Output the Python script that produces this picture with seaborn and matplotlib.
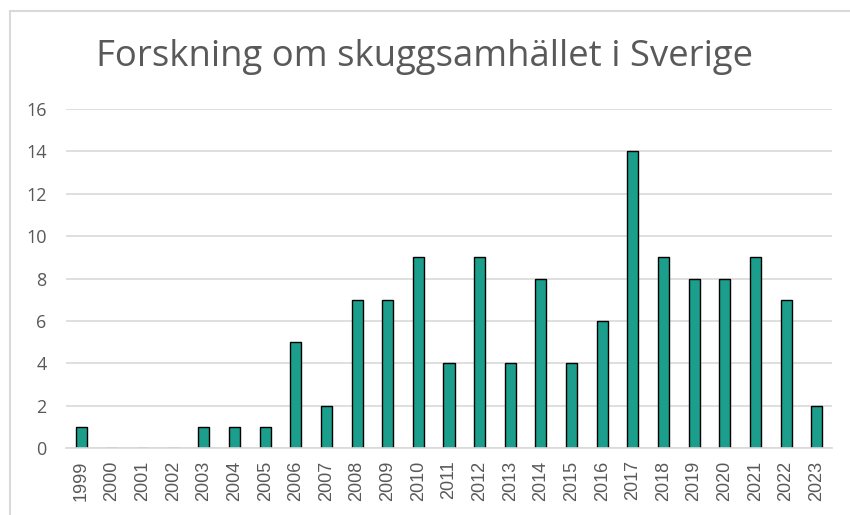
import seaborn as sns
import pandas as pd
import matplotlib.pyplot as plt
from matplotlib.patches import Rectangle

years = [str(y) for y in range(1999, 2024)]
counts = [1, 0, 0, 0, 1, 1, 1, 5, 2, 7, 7, 9, 4, 9, 4, 8, 4, 6, 14, 9, 8, 8, 9, 7, 2]
yticks = [0, 2, 4, 6, 8, 10, 12, 14, 16]

df = pd.DataFrame({"year": years, "count": counts})

sns.set_theme(style="white")
plt.rcParams['font.family'] = ['Open Sans', 'DejaVu Sans']

fig = plt.figure(figsize=(8.5, 5.15), dpi=100)
# outer chart frame (light grey, partly cut by the image edge)
fig.patches.append(Rectangle((9.5 / 850, -0.1), 1.0, 1 - 10.5 / 515 + 0.1,
                             transform=fig.transFigure, fill=False,
                             edgecolor='#d9d9d9', linewidth=1.5, zorder=0))

ax = fig.add_axes([66 / 850, 1 - 448 / 515, (832 - 66) / 850, (448 - 109) / 515])
sns.barplot(data=df, x="year", y="count", color='#1b9e8c', saturation=1,
            width=0.36, edgecolor='black', linewidth=1, ax=ax)

ax.set_ylim(0, 16)
ax.set_yticks(yticks)
ax.yaxis.grid(True, color='#d9d9d9', linewidth=1.2)
ax.set_axisbelow(True)
ax.set_xlabel('')
ax.set_ylabel('')
for s in ['top', 'right', 'left']:
    ax.spines[s].set_visible(False)
ax.spines['bottom'].set_color('#d9d9d9')
ax.spines['bottom'].set_linewidth(1.2)
ax.tick_params(axis='x', rotation=90, labelsize=13, labelcolor='#595959', length=0, pad=9,
               labelfontfamily='Liberation Sans')
ax.tick_params(axis='y', labelsize=13, labelcolor='#595959', length=0, pad=14)

fig.text(0.5, 1 - 57 / 515, 'Forskning om skuggsamhället i Sverige',
         ha='center', va='center', fontsize=26.3, color='#595959')

fig.savefig('out.png', dpi=100)
